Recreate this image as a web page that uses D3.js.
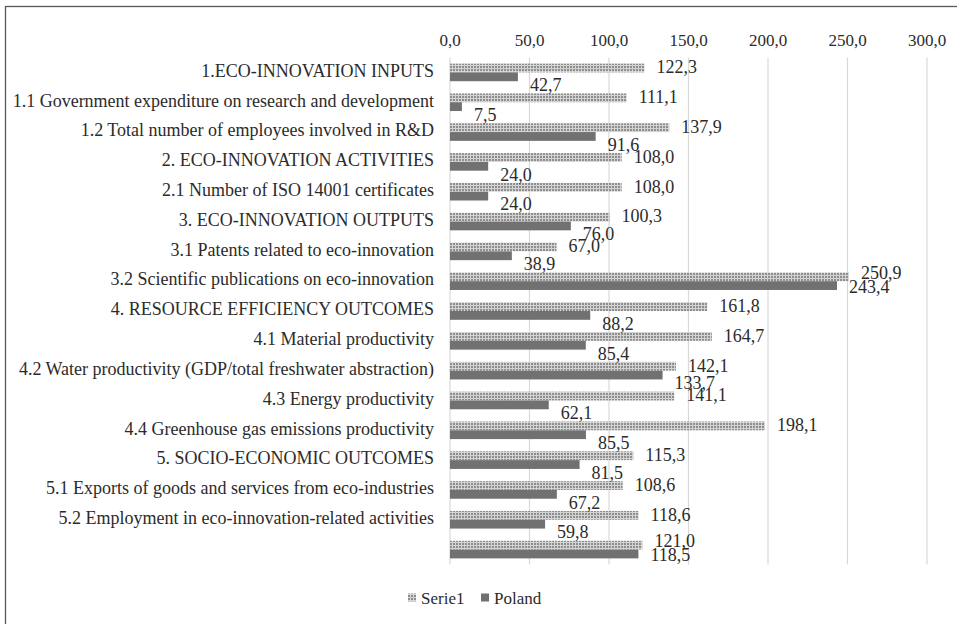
<!DOCTYPE html>
<html>
<head>
<meta charset="utf-8">
<script src="https://cdn.jsdelivr.net/npm/d3@7"></script>
<style>
  body { margin: 0; background: #fff; }
</style>
</head>
<body>
<svg id="chart"></svg>
<script>
// data
const categories = [
  "1.ECO-INNOVATION INPUTS",
  "1.1 Government expenditure on research and development",
  "1.2 Total number of employees involved in R&D",
  "2. ECO-INNOVATION ACTIVITIES",
  "2.1 Number of ISO 14001 certificates",
  "3. ECO-INNOVATION OUTPUTS",
  "3.1 Patents related to eco-innovation",
  "3.2 Scientific publications on eco-innovation",
  "4. RESOURCE EFFICIENCY OUTCOMES",
  "4.1 Material productivity",
  "4.2 Water productivity (GDP/total freshwater abstraction)",
  "4.3 Energy productivity",
  "4.4 Greenhouse gas emissions productivity",
  "5. SOCIO-ECONOMIC OUTCOMES",
  "5.1 Exports of goods and services from eco-industries",
  "5.2 Employment in eco-innovation-related activities",
  ""
];
const serie1 = [122.3, 111.1, 137.9, 108.0, 108.0, 100.3, 67.0, 250.9, 161.8, 164.7, 142.1, 141.1, 198.1, 115.3, 108.6, 118.6, 121.0];
const poland = [42.7, 7.5, 91.6, 24.0, 24.0, 76.0, 38.9, 243.4, 88.2, 85.4, 133.7, 62.1, 85.5, 81.5, 67.2, 59.8, 118.5];
const seriesNames = ["Serie1", "Poland"];
const xTicks = [0, 50, 100, 150, 200, 250, 300];

// constants
const width = 957;
const height = 624;
const plot = { left: 450, right: 927, top: 57.5, bottom: 564.5 };
const fontSize = 17;
const labelSize = 18;
const fontFamily = "'Liberation Serif', 'Times New Roman', Tinos, 'DejaVu Serif', serif";
const darkGray = "#717171";

const fmt = v => d3.format(".1f")(v).replace(".", ",");

const svg = d3.select("svg#chart")
    .attr("width", width).attr("height", height)
    .attr("font-family", fontFamily)
    .attr("font-size", fontSize)
    .attr("fill", "#2b2b2b");

// checkered pattern for Serie1
const defs = svg.append("defs");
const pat = defs.append("pattern")
    .attr("id", "checker")
    .attr("width", 3).attr("height", 3)
    .attr("patternUnits", "userSpaceOnUse");
pat.append("rect").attr("width", 3).attr("height", 3).attr("fill", "#8e8e8e");
pat.append("rect").attr("x", 2).attr("width", 1).attr("height", 3).attr("fill", "#d4d4d4");
pat.append("rect").attr("y", 2).attr("width", 3).attr("height", 1).attr("fill", "#d4d4d4");

// frame
svg.append("rect")
    .attr("x", 5.5).attr("y", 6.5)
    .attr("width", 980).attr("height", 640)
    .attr("fill", "none")
    .attr("stroke", "#595959")
    .attr("stroke-width", 1.3);

const x = d3.scaleLinear().domain([0, 300]).range([plot.left, plot.right]);
const y = d3.scaleBand()
    .domain(d3.range(categories.length))
    .range([plot.top, plot.bottom])
    .paddingInner(0.41)
    .paddingOuter(0.205);
const ySub = d3.scaleBand().domain([0, 1]).range([0, y.bandwidth()]);

// gridlines
svg.append("g")
  .selectAll("line")
  .data(xTicks)
  .join("line")
    .attr("x1", d => x(d)).attr("x2", d => x(d))
    .attr("y1", plot.top).attr("y2", plot.bottom)
    .attr("stroke", "#d9d9d9")
    .attr("stroke-width", 1.2);

// top axis labels
svg.append("g")
  .selectAll("text")
  .data(xTicks)
  .join("text")
    .attr("x", d => x(d))
    .attr("y", 40)
    .attr("dy", "0.35em")
    .attr("text-anchor", "middle")
    .text(d => fmt(d));

// category labels
svg.append("g")
    .attr("font-size", labelSize)
  .selectAll("text")
  .data(categories)
  .join("text")
    .attr("x", 434)
    .attr("y", (d, i) => y(i) + y.bandwidth() / 2 - 2)
    .attr("dy", "0.35em")
    .attr("text-anchor", "end")
    .text(d => d);

const rows = categories.map((c, i) => ({ i, s: serie1[i], p: poland[i] }));

// bars
svg.append("g")
  .selectAll("rect")
  .data(rows)
  .join("rect")
    .attr("x", x(0))
    .attr("y", d => y(d.i) + ySub(0))
    .attr("width", d => x(d.s) - x(0))
    .attr("height", ySub.bandwidth())
    .attr("fill", "url(#checker)");

svg.append("g")
  .selectAll("rect")
  .data(rows)
  .join("rect")
    .attr("x", x(0))
    .attr("y", d => y(d.i) + ySub(1))
    .attr("width", d => x(d.p) - x(0))
    .attr("height", ySub.bandwidth())
    .attr("fill", darkGray);

// value labels (when the two values are close, Poland's label sits on its bar)
const close = d => Math.abs(d.s - d.p) < 8;

svg.append("g")
    .attr("font-size", labelSize)
  .selectAll("text")
  .data(rows)
  .join("text")
    .attr("x", d => x(d.s) + 12)
    .attr("y", d => y(d.i) + ySub(0) + ySub.bandwidth() / 2 - (close(d) ? 4 : 1))
    .attr("dy", "0.35em")
    .text(d => fmt(d.s));

svg.append("g")
    .attr("font-size", labelSize)
  .selectAll("text")
  .data(rows)
  .join("text")
    .attr("x", d => x(d.p) + 12)
    .attr("y", d => y(d.i) + ySub(1) + ySub.bandwidth() / 2 + (close(d) ? 1 : 8))
    .attr("dy", "0.35em")
    .text(d => fmt(d.p));

// legend
const legend = svg.append("g").attr("transform", "translate(408, 598)");
const legendX = [0, 73];
const item = legend.selectAll("g")
  .data(seriesNames)
  .join("g")
    .attr("transform", (d, i) => `translate(${legendX[i]}, 0)`);
item.append("rect")
    .attr("x", 0).attr("y", -4.5)
    .attr("width", 8).attr("height", 8)
    .attr("fill", (d, i) => i === 0 ? "url(#checker)" : darkGray);
item.append("text")
    .attr("x", 13)
    .attr("dy", "0.35em")
    .text(d => d);
</script>
</body>
</html>
